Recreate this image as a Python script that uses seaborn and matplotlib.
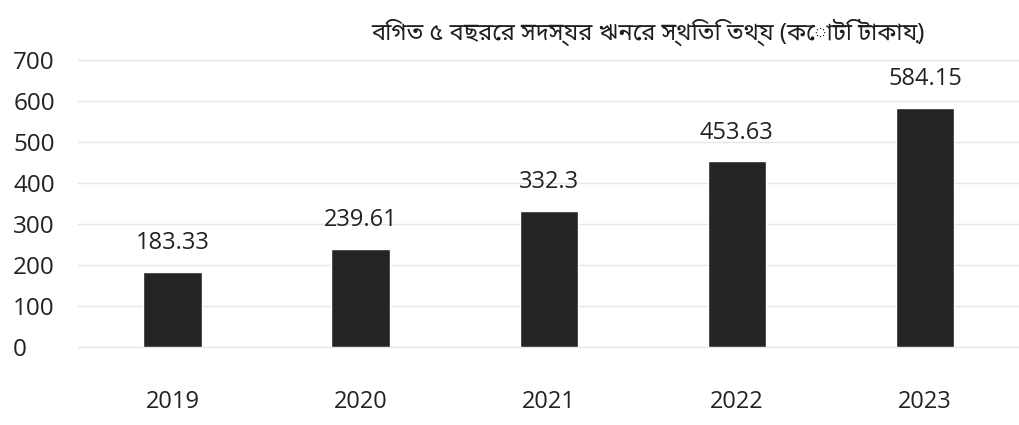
import pandas as pd
import seaborn as sns
import matplotlib.pyplot as plt

# data
years = ["2019", "2020", "2021", "2022", "2023"]
loans = [183.33, 239.61, 332.3, 453.63, 584.15]
value_labels = ["183.33", "239.61", "332.3", "453.63", "584.15"]
title = "বিগত ৫ বছরের সদস্যর ঋনের স্থিতি তথ্য (কোটি টাকায়)"

df = pd.DataFrame({"year": years, "loan": loans})

sns.set_style("white")
plt.rcParams["font.family"] = ["Open Sans", "Noto Sans", "DejaVu Sans"]

fig = plt.figure(figsize=(10.19, 4.25), dpi=100)
ax = fig.add_axes([0.077, 0.183, 0.923, 0.675])

sns.barplot(data=df, x="year", y="loan", color="#242424", width=0.31,
            saturation=1, ax=ax)

ax.set_ylim(0, 700)
ax.set_yticks(range(0, 701, 100))
ax.yaxis.grid(True, color="#e6e6e6", linewidth=1, clip_on=False)
ax.set_axisbelow(True)
for s in ax.spines.values():
    s.set_visible(False)
ax.set_xlabel("")
ax.set_ylabel("")
ax.tick_params(axis="x", length=0, pad=31, labelsize=17, colors="#222222")
ax.tick_params(axis="y", length=0, labelsize=17.5, colors="#222222")
for lab in ax.get_yticklabels():
    lab.set_horizontalalignment("left")
ax.yaxis.set_tick_params(pad=47)

for i, (v, txt) in enumerate(zip(loans, value_labels)):
    ax.annotate(txt, (i, v), xytext=(0, 12), textcoords="offset points",
                ha="center", va="bottom", fontsize=17, color="#222222")

fig.text(0.636, 0.925, title, ha="center", va="center", fontsize=17,
         color="#1e1e1e", family=["Noto Sans Bengali", "Lohit Bengali",
                                  "FreeSans", "Noto Sans", "DejaVu Sans"])

fig.savefig("out.png", dpi=100)
